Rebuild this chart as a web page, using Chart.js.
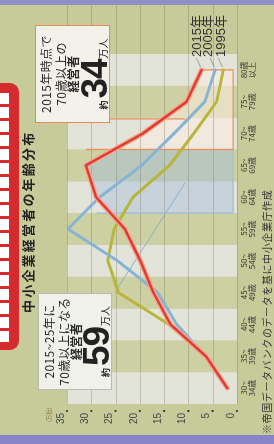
<!DOCTYPE html>
<html><head><meta charset="utf-8">
<script src="https://cdn.jsdelivr.net/npm/chart.js@4.4.1/dist/chart.umd.min.js"></script>
<style>
html,body{margin:0;padding:0;width:274px;height:444px;overflow:hidden;background:#c6cb99;}
#wrap{position:absolute;left:0;top:0;width:444px;height:274px;transform-origin:0 0;transform:translate(0px,444px) rotate(-90deg);background:#c6cb99;overflow:hidden;font-family:"Noto Sans CJK JP",sans-serif;color:#2a2a2a;}
canvas{position:absolute;left:0;top:0;display:block;}
.abs{position:absolute;white-space:nowrap;}
.box{position:absolute;box-sizing:border-box;border:1.5px solid;}
.ln{position:absolute;left:0;right:0;text-align:center;font-size:12px;line-height:13px;letter-spacing:0.4px;white-space:nowrap;}
.b{font-weight:bold;}
.big{position:absolute;left:0;right:0;text-align:center;height:34px;line-height:34px;font:bold 37px "Liberation Sans",sans-serif;white-space:nowrap;color:#222;}
.num{letter-spacing:-1px;}
.s1{font:bold 9px "Noto Sans CJK JP",sans-serif;line-height:0;margin-right:2px;}
.s2{font:10px "Noto Sans CJK JP",sans-serif;line-height:0;margin-left:1px;}
.yr{font:13px "Liberation Sans","Noto Sans CJK JP",sans-serif;line-height:14px;color:#333;}
</style></head>
<body>
<div id="wrap">
  <canvas id="c" width="444" height="274"></canvas>
  <div class="abs" style="left:0;top:0;width:9px;height:274px;background:#8885c6;"></div>
  <div class="abs" style="left:439px;top:0;width:5px;height:274px;background:#8f90c6;"></div>
  <div class="abs" style="left:94px;top:-14px;width:267px;height:33px;background:#d52a2e;border-radius:9px;"></div>
  <div class="abs" style="left:102px;top:0;width:251px;height:9px;background:repeating-linear-gradient(90deg,#fff 0 11px,#d52a2e 11px 14px);"></div>
  <div class="abs" style="left:131px;top:21px;font-size:13px;line-height:14px;font-weight:bold;letter-spacing:2.2px;color:#222;">中小企業経営者の年齢分布</div>
  <div class="abs" style="left:22px;top:46px;font-size:5.5px;line-height:6px;color:#8a7a45;">(万社)</div>
  <div class="abs yr" style="left:387px;top:190px;">2015年</div>
  <div class="abs yr" style="left:387px;top:201px;">2005年</div>
  <div class="abs yr" style="left:387px;top:214px;">1995年</div>
  <div class="box" style="left:321px;top:35px;width:98px;height:75px;border-color:#e48d58;background:#f3f1ea;">
    <div class="ln" style="top:3px">2015年時点で</div>
    <div class="ln" style="top:17.5px">70歳以上の</div>
    <div class="ln b" style="top:29.5px">経営者</div>
    <div class="big" style="top:38px"><span class="s1">約</span><span class="num">34</span><span class="s2">万人</span></div>
  </div>
  <div class="box" style="left:54px;top:38px;width:97px;height:74px;border-color:#b9bab2;background:#f1f1ec;">
    <div class="ln" style="top:3px">2015~25年に</div>
    <div class="ln" style="top:17.5px">70歳以上になる</div>
    <div class="ln b" style="top:29.5px">経営者</div>
    <div class="big" style="top:37px"><span class="s1">約</span><span class="num">59</span><span class="s2">万人</span></div>
  </div>
  <div class="abs" style="left:10px;top:261px;font-size:10px;line-height:11px;letter-spacing:0.6px;color:#333;">※帝国データバンクのデータを基に中小企業庁作成</div>
</div>
<script>
const categories = ['30~34歳','35~39歳','40~44歳','45~49歳','50~54歳','55~59歳','60~64歳','65~69歳','70~74歳','75~79歳','80歳以上'];
const labelTop = ['30~','35~','40~','45~','50~','55~','60~','65~','70~','75~','80歳'];
const labelBottom = ['34歳','39歳','44歳','49歳','54歳','59歳','64歳','69歳','74歳','79歳','以上'];
const years = ['2015年','2005年','1995年'];
const v2015 = [2.0,6.4,13.7,17.2,19.9,23.1,29.0,31.1,19.4,10.4,7.3];
const v2005 = [2.2,6.5,12.4,16.3,24.6,34.8,28.3,19.6,13.0,6.6,4.5];
const v1995 = [2.1,6.5,14.0,24.4,26.6,25.3,21.4,13.9,8.9,4.2,2.8];
const valueTicks = [0,5,10,15,20,25,30,35];

const paperBand = '#ccd0a2', lightBand = '#e3e4d9';

function interp(arr, t){
  const i = Math.floor(t), f = t - i;
  return arr[i]*(1-f) + arr[Math.min(i+1, arr.length-1)]*f;
}

const deco = {
  id: 'deco',
  beforeDatasetsDraw(chart){
    const {ctx, scales:{x, y}} = chart;
    const P = (i, v) => [x.getPixelForValue(i), y.getPixelForValue(v)];
    const vTop = y.getPixelForValue(35), vBot = y.getPixelForValue(0);
    ctx.save();
    // alternating bands
    for (let i = 0; i < categories.length; i++){
      const a = x.getPixelForValue(i - 0.5), b = x.getPixelForValue(i + 0.5);
      ctx.fillStyle = i % 2 === 0 ? lightBand : paperBand;
      ctx.fillRect(a, vTop, b - a, vBot - vTop);
    }
    const edge = 0.8;
    function region(from, to, fill){
      const pts = [[from, interp(v2015, from)]];
      for (let i = Math.ceil(from); i <= Math.floor(to); i++) if (i > from && i < to) pts.push([i, v2015[i]]);
      pts.push([to, interp(v2015, to)]);
      pts.push([to, edge]); pts.push([from, edge]);
      ctx.beginPath();
      pts.forEach((p, k) => { const q = P(p[0], p[1]); k ? ctx.lineTo(q[0], q[1]) : ctx.moveTo(q[0], q[1]); });
      ctx.closePath();
      ctx.fillStyle = fill; ctx.fill();
    }
    region(5.5, 7.5, 'rgba(165,188,222,0.45)');
    region(7.5, 10, 'rgba(255,238,228,0.5)');
    // grid lines
    ctx.strokeStyle = 'rgba(105,105,80,0.38)';
    ctx.lineWidth = 0.8;
    const g0 = x.getPixelForValue(-0.5), g1 = chart.width - 5;
    valueTicks.forEach(v => {
      const py = Math.round(y.getPixelForValue(v)) + 0.5;
      ctx.beginPath(); ctx.moveTo(g0, py); ctx.lineTo(g1, py); ctx.stroke();
    });
    // region outlines
    ctx.lineWidth = 1.4;
    ctx.strokeStyle = '#a5bcd8';
    ctx.beginPath();
    let q = P(7.5, edge); ctx.moveTo(q[0], q[1]);
    q = P(5.5, edge); ctx.lineTo(q[0], q[1]);
    q = P(5.5, v2015[6]); ctx.lineTo(q[0], q[1]);
    ctx.stroke();
    ctx.strokeStyle = '#e8935f';
    ctx.beginPath();
    q = P(10, v2015[10]); ctx.moveTo(q[0], q[1]);
    q = P(10, edge); ctx.lineTo(q[0], q[1]);
    q = P(7.5, edge); ctx.lineTo(q[0], q[1]);
    q = P(7.5, v2015[7]); ctx.lineTo(q[0], q[1]);
    ctx.stroke();
    // connectors to callouts
    ctx.lineWidth = 1.3;
    ctx.beginPath();
    q = P(8.46, 27); ctx.moveTo(q[0], q[1]);
    q = P(8.46, 10.7); ctx.lineTo(q[0], q[1]);
    ctx.stroke();
    ctx.strokeStyle = '#8db0cc'; ctx.lineWidth = 1;
    ctx.beginPath();
    q = P(6.45, 10.7); ctx.moveTo(q[0], q[1]);
    q = P(2.99, 25.2); ctx.lineTo(q[0], q[1]);
    ctx.stroke();
    // tick dots
    ctx.fillStyle = '#333';
    valueTicks.forEach(v => {
      ctx.beginPath(); ctx.arc(33, y.getPixelForValue(v), 1.1, 0, Math.PI*2); ctx.fill();
    });
    ctx.restore();
  },
  afterDatasetsDraw(chart){
    const {ctx, scales:{x, y}} = chart;
    ctx.save();
    ctx.strokeStyle = '#8c8c80'; ctx.lineWidth = 0.8;
    [v2015, v2005, v1995].forEach(arr => {
      const px = x.getPixelForValue(arr.length - 1), py = y.getPixelForValue(arr[arr.length - 1]);
      ctx.beginPath(); ctx.moveTo(px + 3, py - 1); ctx.lineTo(px + 12, py - 5); ctx.stroke();
    });
    ctx.restore();
  }
};

const lineBase = {pointRadius:0, tension:0, fill:false, borderCapStyle:'round', borderJoinStyle:'round'};
new Chart(document.getElementById('c'), {
  type: 'line',
  data: {
    labels: labelTop.map((t, i) => [t, labelBottom[i]]),
    datasets: [
      {...lineBase, label: years[0], data: v2015, borderColor: '#e23a2c', borderWidth: 2.4},
      {...lineBase, label: years[0] + ' outline', data: v2015, borderColor: '#f4a796', borderWidth: 5},
      {...lineBase, label: years[1], data: v2005, borderColor: '#86b4d4', borderWidth: 3},
      {...lineBase, label: years[2], data: v1995, borderColor: '#b8b63a', borderWidth: 3}
    ]
  },
  options: {
    responsive: false, animation: false, devicePixelRatio: 1,
    layout: {padding: {top: 67, right: 54, bottom: 0, left: 0}},
    plugins: {legend: {display: false}, tooltip: {enabled: false}},
    scales: {
      x: {
        type: 'category', offset: true,
        grid: {display: false, drawTicks: false}, border: {display: false},
        ticks: {font: {size: 8, family: '"Noto Sans CJK JP"', lineHeight: 1.0}, color: '#333', padding: 3, maxRotation: 0, autoSkip: false},
        afterFit: s => { s.height = 37; }
      },
      y: {
        min: 0, max: 35,
        grid: {display: false, drawTicks: false}, border: {display: false},
        afterBuildTicks: s => { s.ticks = valueTicks.map(v => ({value: v})); },
        ticks: {font: {size: 10, family: '"Liberation Sans"'}, color: '#444', padding: 9, labelOffset: -6},
        afterFit: s => { s.width = 40; }
      }
    }
  },
  plugins: [deco]
});
</script>
</body></html>
